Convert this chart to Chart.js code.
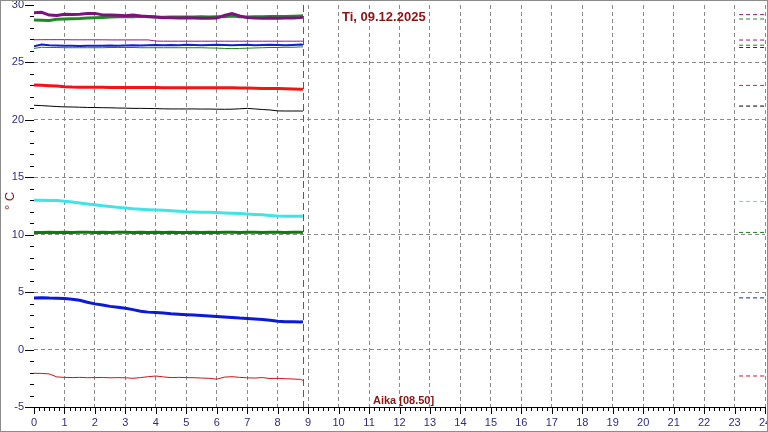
<!DOCTYPE html>
<html>
<head>
<meta charset="utf-8">
<script src="https://cdn.jsdelivr.net/npm/chart.js@4"></script>
<style>
  body { margin: 0; background: #fff; }
  #wrap { width: 768px; height: 432px; position: relative; }
</style>
</head>
<body>
<div id="wrap"><canvas id="tempChart"></canvas></div>
<script>
// time of day in hours (08:50 = 8.83)
const hours = [0,0.25,0.5,0.75,1,1.25,1.5,1.75,2,2.25,2.5,2.75,3,3.25,3.5,3.75,4,4.25,4.5,4.75,5,5.25,5.5,5.75,6,6.25,6.5,6.75,7,7.25,7.5,7.75,8,8.25,8.5,8.75,8.83];

const purpleTop = [29.33,29.36,29.12,29.08,29.2,29.18,29.2,29.26,29.27,29.14,29.12,29.1,29.06,29.12,29.04,29.0,28.96,28.9,28.88,28.86,28.88,28.86,28.84,28.84,28.86,29.1,29.25,29.05,28.9,28.86,28.84,28.86,28.84,28.86,28.86,28.9,28.95];
const greenTop = [28.7,28.68,28.66,28.76,28.78,28.8,28.82,28.86,28.9,28.92,28.95,28.98,29.0,28.98,29.02,28.98,28.95,28.94,28.95,28.96,28.95,28.96,28.97,28.96,28.98,28.98,29.05,28.98,28.96,28.97,28.98,29.0,29.0,29.0,29.02,29.05,29.06];
const purpleMid = [26.97,26.98,26.98,26.98,26.98,26.97,26.97,26.97,26.97,26.97,26.96,26.96,26.96,26.96,26.96,26.96,26.86,26.85,26.85,26.85,26.85,26.85,26.85,26.85,26.85,26.85,26.85,26.85,26.85,26.85,26.85,26.85,26.85,26.85,26.85,26.85,26.85];
const blueMid = [26.4,26.55,26.5,26.48,26.46,26.45,26.44,26.45,26.46,26.45,26.47,26.46,26.48,26.5,26.48,26.5,26.52,26.5,26.52,26.5,26.53,26.52,26.5,26.52,26.54,26.52,26.5,26.52,26.54,26.5,26.52,26.54,26.52,26.5,26.52,26.55,26.54];
const greenMid = [26.22,26.32,26.3,26.3,26.28,26.28,26.28,26.28,26.28,26.28,26.3,26.3,26.3,26.3,26.28,26.28,26.28,26.28,26.28,26.28,26.28,26.28,26.28,26.26,26.25,26.22,26.2,26.22,26.24,26.26,26.28,26.3,26.3,26.32,26.32,26.35,26.35];
const redMain = [23.04,23.02,22.98,22.94,22.88,22.85,22.84,22.84,22.83,22.83,22.82,22.82,22.82,22.82,22.81,22.81,22.81,22.8,22.8,22.8,22.8,22.8,22.8,22.79,22.79,22.79,22.79,22.78,22.78,22.76,22.74,22.72,22.72,22.7,22.68,22.66,22.66];
const blackMain = [21.27,21.24,21.2,21.16,21.13,21.12,21.1,21.08,21.07,21.06,21.05,21.03,21.02,21.0,21.0,20.99,20.98,20.96,20.95,20.95,20.95,20.95,20.94,20.94,20.93,20.92,20.93,20.96,21.0,20.95,20.9,20.86,20.78,20.77,20.77,20.77,20.76];
const cyanMain = [13.0,13.0,12.98,12.98,12.92,12.84,12.76,12.68,12.6,12.52,12.45,12.38,12.32,12.26,12.22,12.18,12.15,12.12,12.08,12.04,12.0,11.98,11.96,11.95,11.93,11.9,11.87,11.84,11.8,11.76,11.73,11.68,11.63,11.6,11.6,11.6,11.6];
const greenLow = [10.2,10.2,10.21,10.2,10.22,10.2,10.21,10.22,10.2,10.21,10.2,10.22,10.21,10.2,10.21,10.2,10.22,10.2,10.21,10.2,10.2,10.21,10.2,10.22,10.2,10.21,10.22,10.2,10.21,10.22,10.2,10.22,10.21,10.2,10.22,10.21,10.2];
const blueLow = [4.5,4.52,4.48,4.47,4.44,4.38,4.3,4.12,3.98,3.88,3.76,3.68,3.6,3.48,3.34,3.26,3.22,3.18,3.12,3.08,3.04,3.0,2.96,2.92,2.88,2.84,2.8,2.74,2.7,2.66,2.62,2.55,2.46,2.42,2.42,2.41,2.42];
const redLow = [-2.06,-2.08,-2.12,-2.38,-2.42,-2.44,-2.42,-2.45,-2.44,-2.43,-2.46,-2.44,-2.46,-2.5,-2.44,-2.36,-2.3,-2.38,-2.44,-2.42,-2.44,-2.45,-2.48,-2.5,-2.58,-2.4,-2.36,-2.42,-2.46,-2.48,-2.44,-2.52,-2.5,-2.54,-2.56,-2.6,-2.68];

// short dashed marks at the right edge (yesterday's last values)
const prevHours = [23.15, 24];
const prevValues = [29.16, 28.78, 26.95, 26.5, 26.3, 23.0, 21.2, 12.9, 10.2, 4.5, -2.3];

const nowHour = 8.83;
const xTicks = [0,1,2,3,4,5,6,7,8,9,10,11,12,13,14,15,16,17,18,19,20,21,22,23,24];

const series = [
  { data: purpleTop, color: '#7f1080', width: 3 },
  { data: greenTop,  color: '#1f8a24', width: 3 },
  { data: purpleMid, color: '#8a1a8a', width: 1 },
  { data: greenMid,  color: '#1f7a1f', width: 1 },
  { data: blueMid,   color: '#1020d0', width: 2 },
  { data: redMain,   color: '#ee1515', width: 3 },
  { data: blackMain, color: '#000000', width: 1 },
  { data: cyanMain,  color: '#40e4e4', width: 3 },
  { data: greenLow,  color: '#137a13', width: 3 },
  { data: blueLow,   color: '#0a1ad8', width: 3 },
  { data: redLow,    color: '#cc1414', width: 1 }
];

const datasets = [];
series.forEach((s, i) => {
  datasets.push({
    data: hours.map((h, j) => ({ x: h, y: s.data[j] })),
    borderColor: s.color,
    borderWidth: s.width,
    pointRadius: 0,
    tension: 0
  });
  datasets.push({
    data: prevHours.map(h => ({ x: h, y: prevValues[i] })),
    borderColor: s.color,
    borderWidth: 1,
    borderDash: [4, 3],
    pointRadius: 0
  });
});

const navy = '#2e2e80';
const darkRed = '#8b1414';

const extras = {
  id: 'extras',
  afterDraw(chart) {
    const ctx = chart.ctx;
    const xs = chart.scales.x, ys = chart.scales.y;
    const area = chart.chartArea;
    ctx.save();
    // minor / major tick marks
    ctx.strokeStyle = '#000';
    ctx.lineWidth = 1;
    ctx.beginPath();
    for (let v = -5; v <= 30; v++) {
      const py = Math.round(ys.getPixelForValue(v)) + 0.5;
      const len = v % 5 === 0 ? 9 : 4;
      ctx.moveTo(area.left - len, py);
      ctx.lineTo(area.left, py);
    }
    for (let m = 0; m <= 24 * 6; m++) {
      const px = Math.round(xs.getPixelForValue(m / 6)) + 0.5;
      const len = m % 6 === 0 ? 7 : 4;
      ctx.moveTo(px, area.bottom);
      ctx.lineTo(px, area.bottom + len);
    }
    ctx.stroke();

    // current time line
    const nx = Math.round(xs.getPixelForValue(nowHour)) + 0.5;
    ctx.strokeStyle = '#1a8a1a';
    ctx.setLineDash([7, 4]);
    ctx.beginPath();
    ctx.moveTo(nx, area.top);
    ctx.lineTo(nx, area.bottom);
    ctx.stroke();
    ctx.setLineDash([]);

    // texts
    ctx.fillStyle = darkRed;
    ctx.font = 'bold 13px "Liberation Sans", Arial, sans-serif';
    ctx.textAlign = 'left';
    ctx.textBaseline = 'alphabetic';
    ctx.fillText('Ti, 09.12.2025', 342, 21);
    ctx.font = 'bold 11px "Liberation Sans", Arial, sans-serif';
    ctx.fillText('Aika [08.50]', 373, 404);
    ctx.save();
    ctx.translate(14, 201);
    ctx.rotate(-Math.PI / 2);
    ctx.textAlign = 'center';
    ctx.font = '13px "Liberation Sans", Arial, sans-serif';
    ctx.fillText('° C', 0, 0);
    ctx.restore();

    // outer frame
    ctx.strokeStyle = '#8c8c8c';
    ctx.lineWidth = 2;
    ctx.strokeRect(0, 0, chart.width, chart.height);
    ctx.restore();
  }
};

new Chart(document.getElementById('tempChart'), {
  type: 'line',
  data: { datasets: datasets },
  plugins: [extras],
  options: {
    responsive: true,
    maintainAspectRatio: false,
    animation: false,
    layout: { padding: { top: 5, right: 3, left: 0, bottom: 0 } },
    plugins: { legend: { display: false }, tooltip: { enabled: false } },
    scales: {
      x: {
        type: 'linear',
        min: 0,
        max: 24,
        afterFit: s => { s.height = 25; s.paddingLeft = 0; s.paddingRight = 0; },
        afterBuildTicks: s => { s.ticks = xTicks.map(v => ({ value: v })); },
        ticks: {
          autoSkip: false,
          maxRotation: 0,
          padding: 9,
          color: navy,
          font: { family: '"Liberation Sans", Arial, sans-serif', size: 11 }
        },
        grid: {
          drawTicks: false,
          color: c => (c.tick && c.tick.value > 0) ? '#8a8a8a' : 'rgba(0,0,0,0)'
        },
        border: { display: true, color: '#000', width: 1, dash: [4, 3] }
      },
      y: {
        min: -5,
        max: 30,
        afterFit: s => { s.width = 34; s.paddingTop = 0; s.paddingBottom = 0; },
        ticks: {
          stepSize: 1,
          autoSkip: false,
          padding: 10,
          color: navy,
          font: { family: '"Liberation Sans", Arial, sans-serif', size: 11 },
          callback: v => (v % 5 === 0 ? v : '')
        },
        grid: {
          drawTicks: false,
          color: c => (c.tick && c.tick.value % 5 === 0 && c.tick.value > -5 && c.tick.value < 30) ? '#8a8a8a' : 'rgba(0,0,0,0)'
        },
        border: { display: false, dash: [4, 3] }
      }
    }
  }
});
</script>
</body>
</html>
